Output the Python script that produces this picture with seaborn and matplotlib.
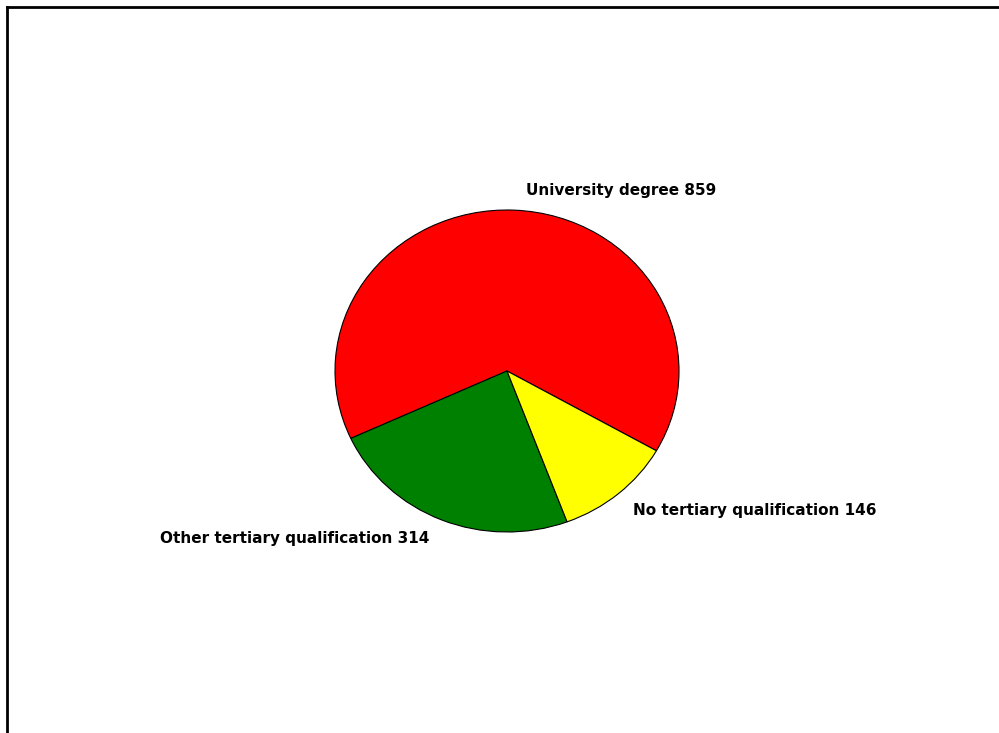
import matplotlib
matplotlib.use("Agg")
import matplotlib.pyplot as plt
import seaborn as sns

categories = ["University degree", "Other tertiary qualification", "No tertiary qualification"]
values = [859, 314, 146]
colors = ["#FF0000", "#008000", "#FFFF00"]

sns.set_style("white")
plt.rcParams["font.family"] = ["DejaVu Sans"]

W, H = 999, 733
fig = plt.figure(figsize=(W / 100, H / 100), dpi=100)
ax = fig.add_axes([0, 0, 1, 1])

# pixel-like coordinates; y squeezed slightly so the pie is drawn as a flat ellipse
ry, rx = 161.0, 172.0
ys = rx / ry

cx, cy = 507, (H - 371) * ys
ax.pie(values, colors=colors, startangle=-29.7, counterclock=True,
       center=(cx, cy), radius=rx, frame=True,
       wedgeprops=dict(edgecolor="black", linewidth=0.8))
ax.set_aspect("auto")
ax.set_xlim(0, W)
ax.set_ylim(0, H * ys)
ax.set_axis_off()

labels = [f"{c} {v}" for c, v in zip(categories, values)]
pos = [(526, 190, "left"), (429, 538, "right"), (633, 511, "left")]
for lab, (x, y, ha) in zip(labels, pos):
    ax.text(x, (H - y) * ys, lab, ha=ha, va="center", fontsize=11,
            fontweight="bold", color="black")

# frame lines along the top and left edges
fig.add_artist(plt.Line2D([6.5 / W, 6.5 / W], [0, 1 - 7 / H], transform=fig.transFigure,
                          color="black", linewidth=2.0, solid_capstyle="projecting"))
fig.add_artist(plt.Line2D([6.5 / W, 1], [1 - 7 / H, 1 - 7 / H], transform=fig.transFigure,
                          color="black", linewidth=2.0, solid_capstyle="projecting"))

fig.savefig("out.png", dpi=100, facecolor="white")
